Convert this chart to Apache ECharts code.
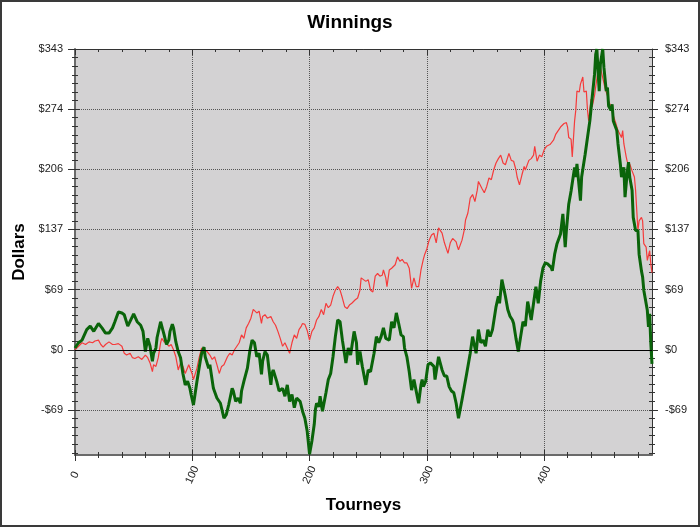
<!DOCTYPE html>
<html><head><meta charset="utf-8">
<script src="https://cdn.jsdelivr.net/npm/echarts@6/dist/echarts.min.js"></script>
<style>html,body{margin:0;padding:0;background:#fff}#c{width:700px;height:527px}</style>
</head><body><div id="c"></div>
<script>
// [tourney, dollars]
const redPoints = [[0,0],[3,4],[6,8],[9,6],[12,9],[15,8],[17,10],[20,11],[22,6],[24,3],[26,6],[29,9],[32,6],[34,6],[37,7],[40,4],[42,-4],[44,-6],[47,-4],[49,-9],[51,-10],[54,-8],[57,-11],[60,-6],[62,-9],[64,-15],[66,-25],[67,-17],[69,-19],[71,-9],[73,8],[74,13],[76,9],[78,8],[80,4],[82,6],[84,0],[86,-8],[88,-23],[90,-15],[92,-19],[94,-27],[97,-17],[98,-15],[100,-28],[101,-34],[104,-21],[106,-8],[108,2],[110,-4],[112,-1],[115,-6],[117,-11],[119,-8],[121,-17],[123,-27],[125,-19],[127,-17],[130,-8],[132,-4],[134,-6],[136,0],[138,4],[140,8],[142,17],[144,13],[146,25],[148,30],[150,36],[152,46],[155,42],[157,44],[159,30],[160,38],[162,40],[164,36],[167,38],[169,32],[171,28],[173,21],[175,13],[177,4],[179,8],[181,2],[183,-4],[185,8],[187,17],[189,13],[191,23],[193,27],[194,30],[196,29],[198,22],[200,11],[202,21],[204,25],[206,34],[208,38],[210,46],[212,40],[214,53],[216,48],[218,51],[220,61],[222,68],[224,72],[226,68],[228,59],[230,49],[232,47],[234,51],[236,53],[239,57],[241,59],[243,68],[244,82],[245,84],[248,78],[250,80],[252,68],[254,66],[256,84],[258,87],[260,84],[262,85],[263,91],[265,82],[266,72],[268,91],[270,93],[273,97],[275,106],[277,101],[279,103],[281,99],[283,99],[285,93],[287,70],[289,82],[291,72],[293,72],[295,91],[297,103],[298,108],[300,115],[302,125],[304,131],[306,133],[308,122],[310,139],[313,133],[315,122],[316,123],[318,110],[320,122],[322,127],[325,123],[326,118],[327,114],[330,125],[332,137],[333,148],[335,156],[337,173],[339,177],[341,169],[343,182],[344,192],[347,184],[349,179],[351,186],[353,196],[355,194],[357,205],[359,213],[361,218],[363,222],[365,213],[367,211],[370,224],[372,216],[374,215],[376,205],[377,197],[379,188],[381,199],[383,209],[384,205],[387,216],[389,218],[391,222],[392,232],[394,215],[396,222],[398,220],[400,228],[402,232],[405,234],[408,239],[410,246],[412,250],[414,254],[417,258],[419,259],[420,254],[421,242],[423,240],[424,220],[426,261],[427,273],[428,295],[430,294],[431,303],[433,311],[434,294],[436,295],[437,273],[438,261],[440,286],[441,277],[443,290],[444,300],[446,318],[448,322],[450,310],[452,298],[454,290],[455,284],[457,277],[459,267],[461,259],[463,250],[464,252],[466,242],[467,250],[468,235],[470,220],[471,214],[473,212],[474,214],[475,204],[477,197],[478,182],[480,136],[481,147],[483,151],[484,147],[485,121],[487,117],[488,102],[490,113],[491,98],[492,88]];

const greenPoints = [[0,2],[3,8],[6,11],[10,23],[13,27],[16,21],[20,30],[23,25],[26,19],[29,19],[32,25],[34,32],[37,43],[40,42],[42,40],[45,27],[49,38],[50,41],[53,32],[56,28],[58,21],[60,-2],[62,13],[64,4],[66,-13],[67,-4],[69,2],[70,14],[73,32],[74,27],[76,17],[78,6],[80,11],[81,21],[83,29],[84,25],[86,9],[88,-2],[90,-9],[92,-27],[94,-40],[96,-36],[98,-44],[99,-51],[101,-63],[104,-36],[107,-11],[108,-4],[110,3],[111,-8],[114,-21],[115,-17],[118,-44],[121,-55],[124,-61],[127,-78],[129,-74],[131,-63],[134,-44],[135,-47],[137,-59],[139,-55],[141,-61],[142,-47],[144,-36],[145,-36],[147,-21],[149,-2],[151,11],[153,8],[155,-8],[157,-4],[159,-28],[160,-13],[162,-2],[164,-6],[167,-40],[168,-27],[169,-23],[172,-36],[174,-47],[177,-44],[179,-53],[181,-40],[183,-59],[185,-51],[187,-66],[189,-55],[192,-59],[194,-70],[196,-78],[198,-93],[200,-119],[202,-104],[204,-85],[205,-68],[206,-61],[208,-65],[209,-53],[211,-70],[214,-49],[216,-34],[218,-27],[220,-8],[222,15],[224,34],[226,32],[228,11],[231,-15],[233,2],[235,-6],[238,21],[240,8],[241,-17],[243,-2],[245,-19],[248,-40],[250,-23],[252,-25],[255,-4],[257,15],[259,8],[261,15],[263,25],[265,13],[268,11],[270,32],[272,25],[274,42],[276,30],[278,17],[280,15],[281,2],[283,-8],[285,-25],[287,-46],[289,-34],[290,-32],[293,-61],[295,-40],[296,-34],[297,-42],[299,-36],[301,-17],[303,-15],[306,-19],[307,-34],[310,-8],[313,-23],[315,-30],[317,-30],[319,-42],[321,-47],[323,-49],[325,-61],[327,-78],[330,-57],[332,-42],[334,-27],[335,-27],[337,-4],[339,15],[342,-4],[344,23],[346,8],[348,11],[350,4],[352,23],[354,15],[356,23],[359,49],[361,61],[362,53],[364,80],[367,61],[369,46],[371,38],[373,34],[374,30],[376,13],[378,-2],[380,15],[382,32],[384,27],[386,55],[389,34],[391,53],[393,72],[395,53],[397,78],[399,93],[401,99],[403,98],[406,94],[407,90],[409,109],[411,121],[414,132],[416,155],[418,117],[419,136],[421,166],[423,181],[426,208],[427,197],[428,212],[431,170],[432,197],[435,223],[437,242],[439,261],[441,288],[443,314],[444,337],[445,343],[446,318],[447,295],[448,326],[450,343],[451,322],[453,295],[454,299],[455,278],[457,273],[458,280],[459,261],[462,250],[463,235],[465,212],[466,197],[468,208],[469,174],[471,204],[472,214],[473,197],[475,182],[476,151],[478,136],[480,136],[481,109],[483,90],[484,83],[485,68],[488,45],[489,26],[490,41],[491,7],[492,-16]];

const yMajorTicks = [-68.6, 0, 68.6, 137.2, 205.8, 274.4, 343];
const xMajorTicks = [0, 100, 200, 300, 400];
const Y_MIN = -120, Y_MAX = 343, X_MIN = 0, X_MAX = 492;

const yMinorTicks = [];
for (let k = -12; k <= 35; k++) yMinorTicks.push(+(k * 9.8).toFixed(2));
const xMinorTicks = [];
for (let v = 0; v <= 480; v += 20) xMinorTicks.push(v);

const FONT = '"Liberation Sans", Arial, sans-serif';
const fmtDollar = v => (v < 0 ? '-$' : '$') + Math.round(Math.abs(v));

function yAx(pos, ticks, inside, len, extra) {
  return Object.assign({
    type: 'value', position: pos, min: Y_MIN, max: Y_MAX,
    axisLine: { show: false, onZero: false },
    axisTick: { show: true, inside: inside, length: len, customValues: ticks, lineStyle: { color: '#333', width: 1 } },
    axisLabel: { show: false }, splitLine: { show: false }
  }, extra || {});
}
function xAx(pos, ticks, inside, len, extra) {
  return Object.assign({
    type: 'value', position: pos, min: X_MIN, max: X_MAX,
    axisLine: { show: false, onZero: false },
    axisTick: { show: true, inside: inside, length: len, customValues: ticks, lineStyle: { color: '#333', width: 1 } },
    axisLabel: { show: false }, splitLine: { show: false }
  }, extra || {});
}

const chart = echarts.init(document.getElementById('c'), null, { renderer: 'canvas' });
chart.setOption({
  animation: false,
  backgroundColor: '#ffffff',
  title: { text: 'Winnings', left: 'center', top: 8,
    textStyle: { fontFamily: FONT, fontSize: 19, fontWeight: 'bold', color: '#000' } },
  grid: { left: 75, right: 48, top: 49, bottom: 72, show: true, backgroundColor: '#d3d2d3', borderWidth: 0, containLabel: false },
  graphic: [{ type: 'rect', shape: { x: 1, y: 1, width: 698, height: 525 }, style: { fill: 'none', stroke: '#3a3a3a', lineWidth: 2 }, silent: true, z: 100 }],
  xAxis: [
    xAx('bottom', xMajorTicks, false, 6, {
      axisLine: { show: true, onZero: false, lineStyle: { color: '#6a6a6a', width: 2 } },
      axisLabel: { show: true, customValues: xMajorTicks, rotate: 65, margin: 20, align: 'center', verticalAlign: 'middle',
        fontFamily: FONT, fontSize: 11, color: '#222' },
      splitLine: { show: true, lineStyle: { color: '#555', type: 'dotted', width: 1 } },
      name: 'Tourneys', nameLocation: 'middle', nameGap: 42,
      nameTextStyle: { fontFamily: FONT, fontSize: 17, fontWeight: 'bold', color: '#000' }
    }),
    xAx('bottom', xMajorTicks, true, 5),
    xAx('bottom', xMinorTicks, false, 3),
    xAx('bottom', xMinorTicks, true, 3),
    xAx('top', xMajorTicks, true, 6, { axisLine: { show: true, onZero: false, lineStyle: { color: '#333', width: 1 } } }),
    xAx('top', xMinorTicks, true, 3)
  ],
  yAxis: [
    yAx('left', yMajorTicks, false, 7, {
      axisLine: { show: true, onZero: false, lineStyle: { color: '#6a6a6a', width: 2 } },
      axisLabel: { show: true, customValues: yMajorTicks, formatter: fmtDollar, margin: 12, fontFamily: FONT, fontSize: 11, color: '#222' },
      splitLine: { show: true, lineStyle: { color: '#555', type: 'dotted', width: 1 } },
      name: 'Dollars', nameLocation: 'middle', nameGap: 45,
      nameTextStyle: { fontFamily: FONT, fontSize: 17, fontWeight: 'bold', color: '#000' }
    }),
    yAx('left', yMajorTicks, true, 5),
    yAx('left', yMinorTicks, false, 3),
    yAx('left', yMinorTicks, true, 3),
    yAx('right', yMajorTicks, false, 6, {
      axisLine: { show: true, onZero: false, lineStyle: { color: '#333', width: 1 } },
      axisLabel: { show: true, customValues: yMajorTicks, formatter: fmtDollar, margin: 13, fontFamily: FONT, fontSize: 11, color: '#222' }
    }),
    yAx('right', yMajorTicks, true, 3),
    yAx('right', yMinorTicks, false, 3),
    yAx('right', yMinorTicks, true, 3)
  ],
  series: [
    { type: 'line', data: redPoints, showSymbol: false, symbol: 'none', z: 2,
      lineStyle: { color: '#f53b3b', width: 1.2 },
      markLine: { silent: true, symbol: 'none', label: { show: false },
        lineStyle: { color: '#000', type: 'solid', width: 1 }, data: [{ yAxis: 0 }] } },
    { type: 'line', data: greenPoints, showSymbol: false, symbol: 'none', z: 3,
      lineStyle: { color: '#0a640a', width: 3 } }
  ]
});
</script></body></html>
